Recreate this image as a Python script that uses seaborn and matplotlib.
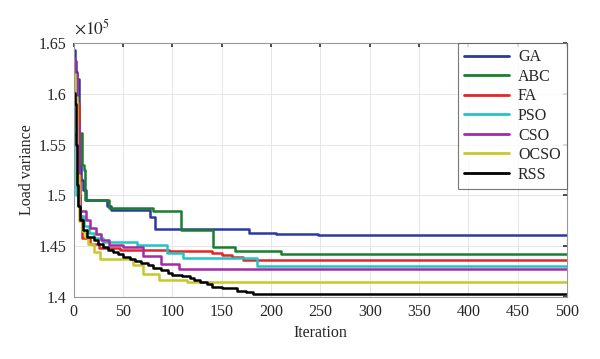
import numpy as np
import pandas as pd
import seaborn as sns
import matplotlib
matplotlib.use("Agg")
import matplotlib.pyplot as plt

# ---- data (values in units of 1e5) ----
ga_it = [0, 1, 2, 3, 5, 6, 7, 9, 12, 34, 38, 77, 82, 178, 205, 248]
ga_v = [1.643, 1.632, 1.622, 1.615, 1.56, 1.53, 1.515, 1.505, 1.4954, 1.490, 1.4856, 1.479, 1.4665, 1.4632, 1.4618, 1.4605]

abc_it = [0, 3, 5, 8, 10, 11, 36, 80, 109, 141, 163, 210]
abc_v = [1.600, 1.580, 1.561, 1.530, 1.525, 1.4954, 1.4872, 1.4848, 1.4658, 1.4487, 1.4454, 1.4426]

fa_it = [0, 3, 5, 6, 8, 16, 26, 47, 97, 140, 150, 160, 172]
fa_v = [1.595, 1.591, 1.520, 1.480, 1.458, 1.452, 1.4478, 1.4461, 1.4450, 1.4435, 1.4410, 1.4395, 1.4365]

pso_it = [0, 2, 4, 6, 10, 15, 20, 30, 64, 94, 111, 186]
pso_v = [1.560, 1.500, 1.490, 1.480, 1.470, 1.463, 1.458, 1.4543, 1.4510, 1.4430, 1.4385, 1.4303]

cso_it = [0, 1, 3, 5, 6, 12, 16, 22, 28, 36, 50, 70, 88, 107]
cso_v = [1.635, 1.620, 1.570, 1.500, 1.485, 1.476, 1.468, 1.462, 1.456, 1.451, 1.449, 1.440, 1.4325, 1.4275]

ocso_it = [0, 1, 3, 5, 8, 11, 14, 20, 27, 60, 70, 86, 115]
ocso_v = [1.620, 1.597, 1.520, 1.475, 1.465, 1.459, 1.452, 1.444, 1.4369, 1.4313, 1.4230, 1.4165, 1.4148]

rss_it = [0, 1, 2, 3, 4, 6, 9, 13, 20, 25, 30, 35, 40, 45, 50, 57, 62, 68, 75, 80, 88,
          95, 100, 110, 118, 122, 128, 135, 140, 150, 165, 175, 182]
rss_v = [1.601, 1.590, 1.550, 1.510, 1.490, 1.4757, 1.466, 1.459, 1.456, 1.4525, 1.449, 1.446,
         1.4445, 1.442, 1.4395, 1.437, 1.435, 1.433, 1.431, 1.428, 1.426, 1.4235, 1.422, 1.4205,
         1.419, 1.4165, 1.4148, 1.413, 1.410, 1.4085, 1.406, 1.405, 1.4027]

names = ["GA", "ABC", "FA", "PSO", "CSO", "OCSO", "RSS"]
colors = ["#2a3aa0", "#1b7d2e", "#e3262a", "#22c4c4", "#a22ca6", "#c8c828", "#000000"]
series = [(ga_it, ga_v), (abc_it, abc_v), (fa_it, fa_v), (pso_it, pso_v),
          (cso_it, cso_v), (ocso_it, ocso_v), (rss_it, rss_v)]
x_max = 500

rows = []
for name, (its, vs) in zip(names, series):
    for i, v in zip(list(its) + [x_max], list(vs) + [vs[-1]]):
        rows.append({"Iteration": i, "Load variance": v, "Algorithm": name})
df = pd.DataFrame(rows)

sns.set_theme(style="white")
plt.rcParams["font.family"] = ["Liberation Serif", "DejaVu Serif"]
plt.rcParams["mathtext.fontset"] = "stix"

fs = 11.5
fig = plt.figure(figsize=(6.0, 3.59), dpi=100)
ax = fig.add_axes([0.123, 0.173, 0.822, 0.707])

sns.lineplot(data=df, x="Iteration", y="Load variance", hue="Algorithm",
             hue_order=names, palette=colors, drawstyle="steps-post",
             linewidth=1.8, estimator=None, sort=False, ax=ax)

ax.set_xlim(0, 500)
ax.set_ylim(1.4, 1.65)
ax.set_xticks(np.arange(0, 501, 50))
yt = [1.4, 1.45, 1.5, 1.55, 1.6, 1.65]
ax.set_yticks(yt)
ax.set_yticklabels(["1.4", "1.45", "1.5", "1.55", "1.6", "1.65"])
ax.tick_params(axis="both", labelsize=fs, direction="in", length=3,
               top=True, right=True, color="#333333", pad=5)
ax.grid(True, color="#e6e6e6", linewidth=0.7)
for s in ax.spines.values():
    s.set_color("#999999")
    s.set_linewidth(0.8)

ax.set_xlabel("Iteration", fontsize=fs, labelpad=4)
ax.set_ylabel("Load variance", fontsize=fs, labelpad=3)
ax.text(0.0, 1.02, r"$\times10^5$", transform=ax.transAxes, fontsize=12.5,
        ha="left", va="bottom")

leg = ax.legend(loc="upper right", fontsize=fs, frameon=True, fancybox=False,
                borderaxespad=0, handlelength=2.8, handletextpad=0.55,
                labelspacing=0.22, borderpad=0.4)
leg.get_frame().set_edgecolor("#555555")
leg.get_frame().set_linewidth(0.8)
leg.set_title(None)
for line in leg.get_lines():
    line.set_linewidth(2.0)

fig.savefig("out.png", dpi=100, facecolor="white")
